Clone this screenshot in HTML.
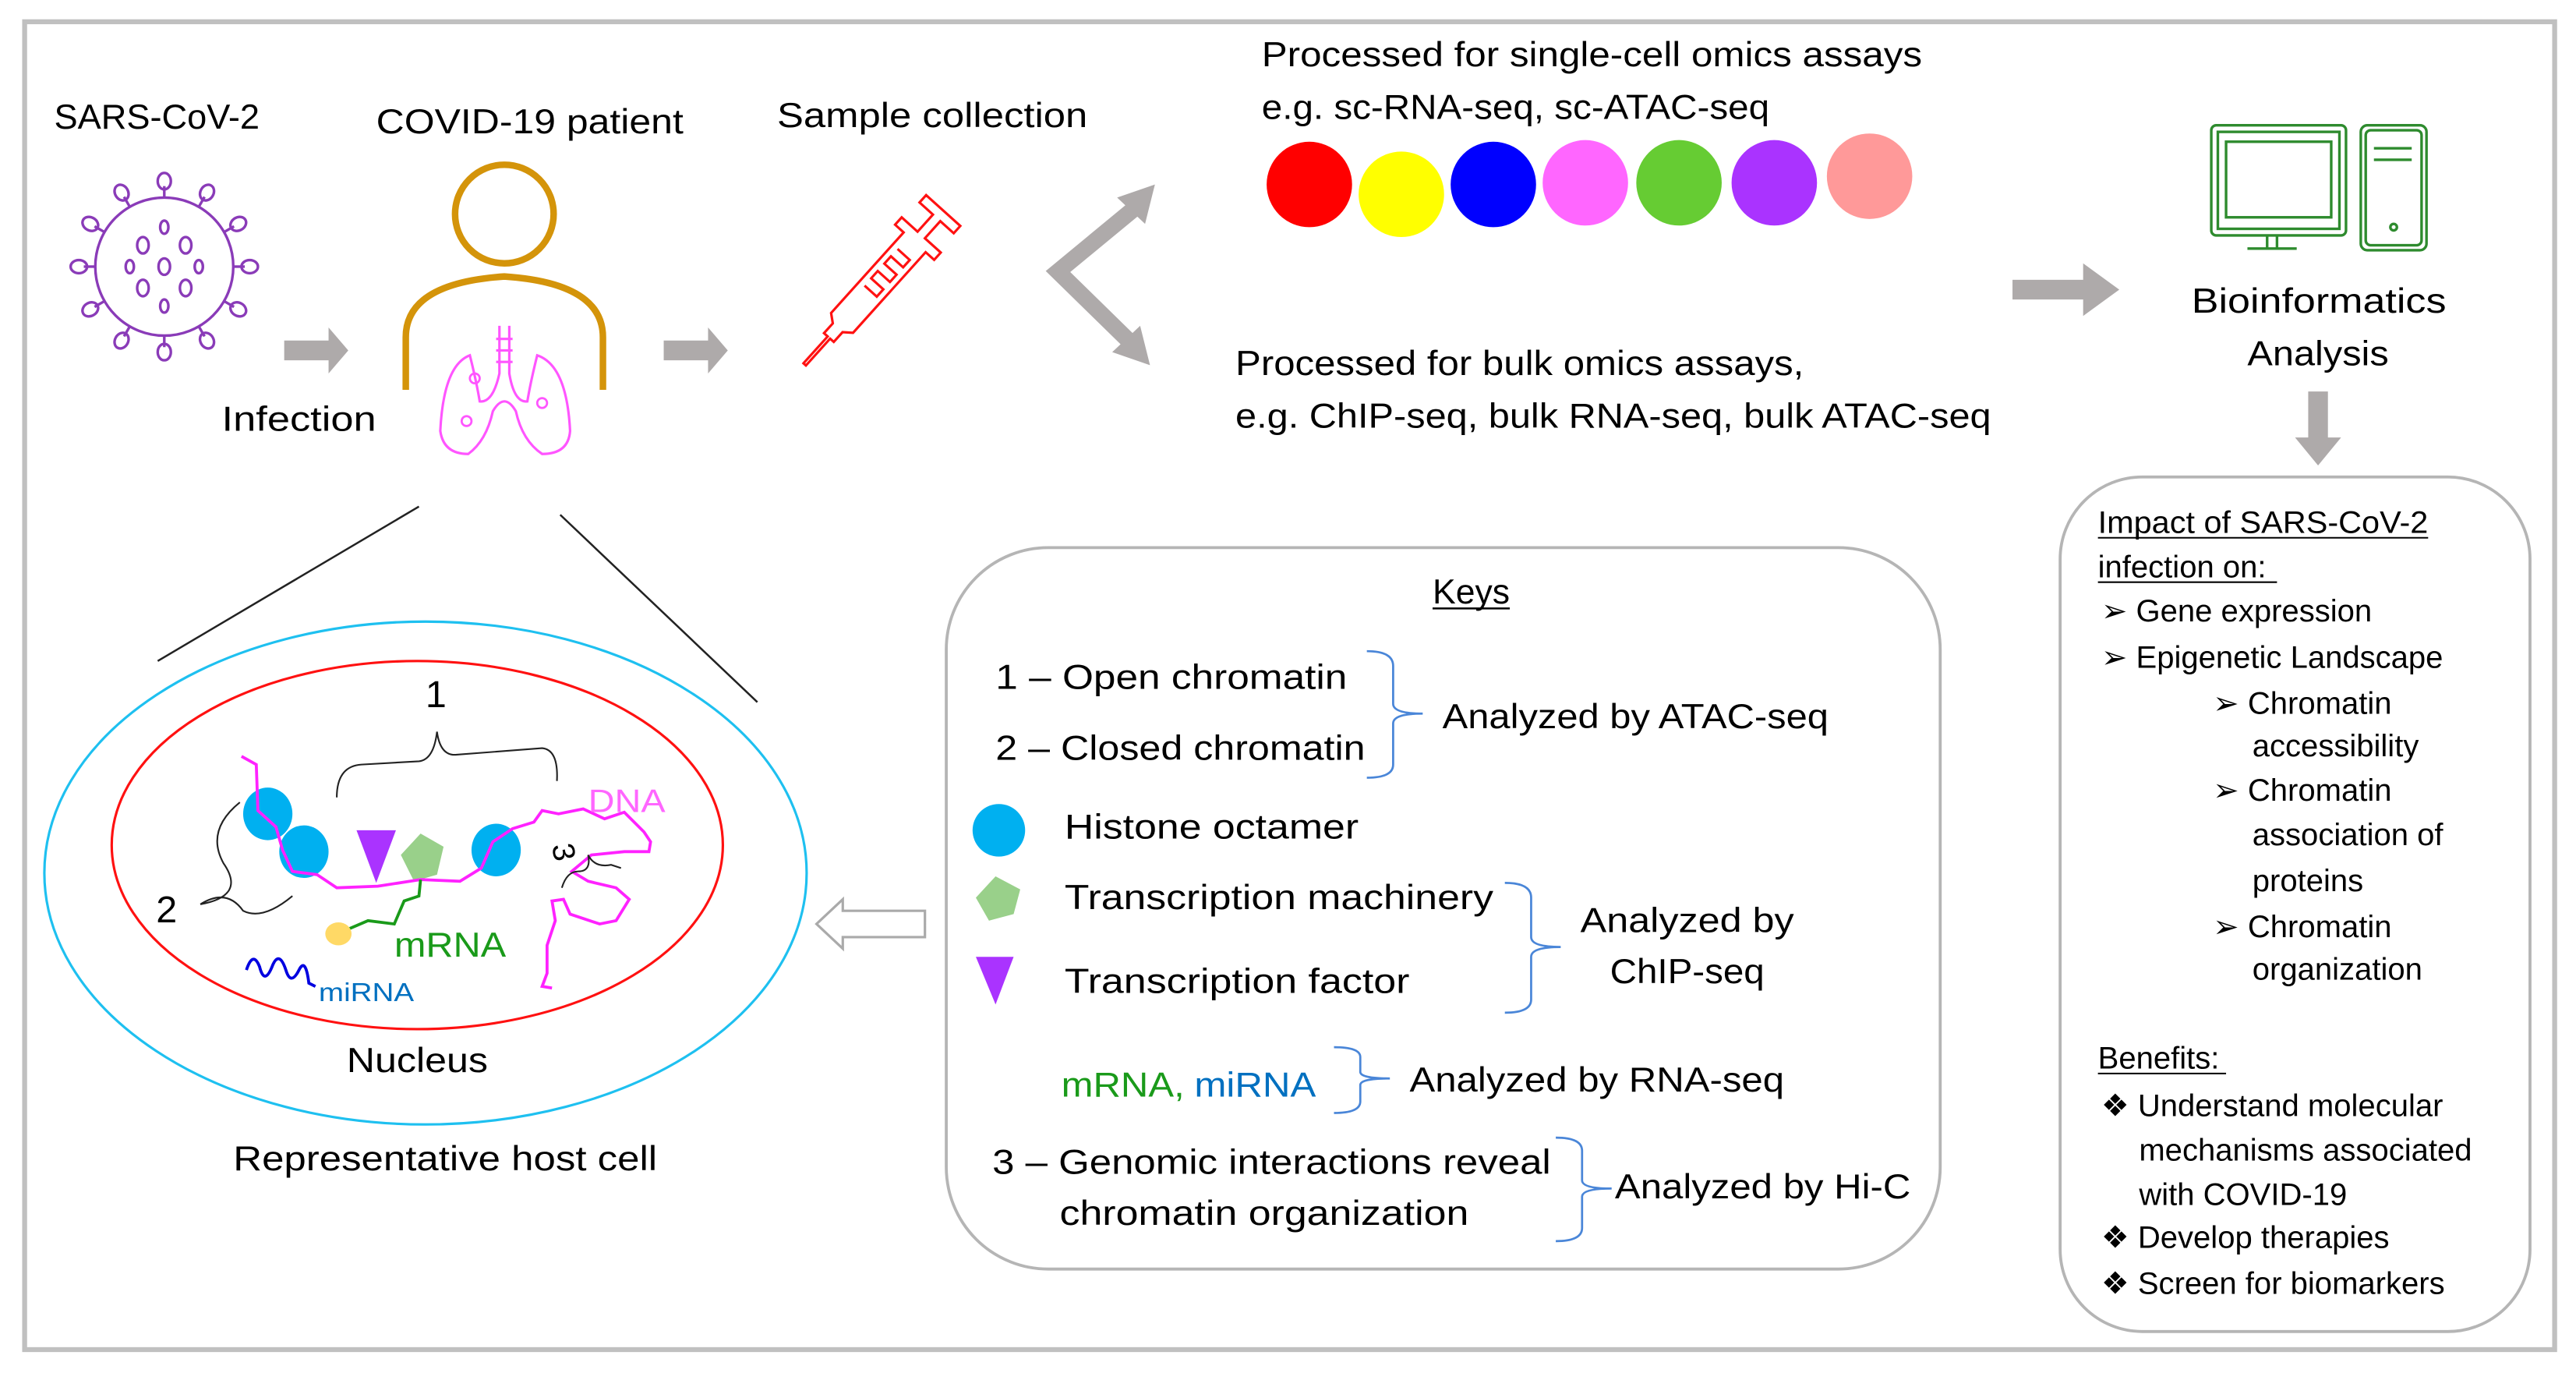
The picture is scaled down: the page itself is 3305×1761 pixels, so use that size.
<!DOCTYPE html>
<html><head><meta charset="utf-8"><style>
html,body{margin:0;padding:0;background:#fff;}
svg{display:block;}
text{font-family:"Liberation Sans",sans-serif;fill:#000;}
</style></head><body>
<svg width="3305" height="1761" viewBox="0 0 1568 835" xmlns="http://www.w3.org/2000/svg">
<rect x="0" y="0" width="1568" height="835" fill="#fff"/>
<rect x="15" y="13" width="1540" height="808" fill="none" stroke="#c0c0c0" stroke-width="3"/>

<g font-size="21">
<text x="33" y="78" textLength="125" lengthAdjust="spacingAndGlyphs">SARS-CoV-2</text>
<text x="229" y="81" textLength="187" lengthAdjust="spacingAndGlyphs">COVID-19 patient</text>
<text x="473" y="77" textLength="189" lengthAdjust="spacingAndGlyphs">Sample collection</text>
<text x="135" y="262" textLength="94" lengthAdjust="spacingAndGlyphs">Infection</text>
<text x="768" y="40" textLength="402" lengthAdjust="spacingAndGlyphs">Processed for single-cell omics assays</text>
<text x="768" y="72" textLength="309" lengthAdjust="spacingAndGlyphs">e.g. sc-RNA-seq, sc-ATAC-seq</text>
<text x="752" y="228" textLength="346" lengthAdjust="spacingAndGlyphs">Processed for bulk omics assays,</text>
<text x="752" y="260" textLength="460" lengthAdjust="spacingAndGlyphs">e.g. ChIP-seq, bulk RNA-seq, bulk ATAC-seq</text>
<text x="1334" y="190" textLength="155" lengthAdjust="spacingAndGlyphs">Bioinformatics</text>
<text x="1368" y="222" textLength="86" lengthAdjust="spacingAndGlyphs">Analysis</text>
</g>

<!-- virus -->
<g stroke="#8a3bb8" stroke-width="1.6" fill="none">
<circle cx="100" cy="162" r="42"/>
<g id="sp"><line x1="100" y1="120" x2="100" y2="113"/><ellipse cx="100" cy="110" rx="4" ry="5"/></g>
<use href="#sp" transform="rotate(30 100 162)"/><use href="#sp" transform="rotate(60 100 162)"/>
<use href="#sp" transform="rotate(90 100 162)"/><use href="#sp" transform="rotate(120 100 162)"/>
<use href="#sp" transform="rotate(150 100 162)"/><use href="#sp" transform="rotate(180 100 162)"/>
<use href="#sp" transform="rotate(210 100 162)"/><use href="#sp" transform="rotate(240 100 162)"/>
<use href="#sp" transform="rotate(270 100 162)"/><use href="#sp" transform="rotate(300 100 162)"/>
<use href="#sp" transform="rotate(330 100 162)"/>
<ellipse cx="100" cy="138" rx="2.5" ry="4"/><ellipse cx="87" cy="149" rx="3.5" ry="5"/><ellipse cx="113" cy="149" rx="3.5" ry="5"/>
<ellipse cx="79" cy="162" rx="2.5" ry="4"/><ellipse cx="100" cy="162" rx="3.5" ry="5"/><ellipse cx="121" cy="162" rx="2.5" ry="4"/>
<ellipse cx="87" cy="175" rx="3.5" ry="5"/><ellipse cx="113" cy="175" rx="3.5" ry="5"/><ellipse cx="100" cy="186" rx="2.5" ry="4"/>
</g>

<!-- gray arrows -->
<g fill="#aeaaaa">
<polygon points="173,207 200,207 200,199 212,213 200,227 200,219 173,219"/>
<polygon points="404,207 431,207 431,199 443,213 431,227 431,219 404,219"/>
<polygon points="1225,170 1268,170 1268,160 1290,176 1268,192 1268,182 1225,182"/>
<polygon points="1405,238 1417,238 1417,266 1425,266 1411,283 1397,266 1405,266"/>
</g>
<g stroke="#aeaaaa" stroke-width="10" fill="none"><polyline points="690,127 644,165 690,210"/></g>
<polygon points="703,112 680,120 697,136" fill="#aeaaaa"/>
<polygon points="700,222 677,214 694,198" fill="#aeaaaa"/>

<!-- person -->
<circle cx="307" cy="130" r="30" fill="none" stroke="#d4940a" stroke-width="4"/>
<path d="M247,237 V205 Q247,172 307,168 Q367,172 367,205 V237" fill="none" stroke="#d4940a" stroke-width="4"/>
<g stroke="#ff55ff" stroke-width="1.5" fill="none">
<path d="M304,198 V227 Q300,245 292,244 Q290,232 286,216 Q270,222 268,262 Q270,276 285,276 Q296,268 300,250 Q307,238 314,250 Q318,268 330,276 Q346,276 347,262 Q345,222 327,216 Q323,232 321,244 Q313,245 310,227 V198"/>
<line x1="302" y1="206" x2="312" y2="206"/><line x1="302" y1="213" x2="312" y2="213"/><line x1="302" y1="220" x2="312" y2="220"/>
</g>
<g fill="none" stroke="#ff55ff" stroke-width="1.3"><circle cx="289" cy="230" r="3"/><circle cx="284" cy="256" r="3"/><circle cx="330" cy="245" r="3"/></g>

<!-- syringe -->
<g transform="translate(538,168) rotate(-48)" stroke="#ff1111" stroke-width="1.5" fill="none">
<path d="M-72,-1 L-50,-1 L-50,-4 L-42,-4 L-38,-9 L28,-9 L28,-16 L34,-16 L34,-3 L48,-3 L48,-14 L54,-14 L54,14 L48,14 L48,3 L34,3 L34,16 L28,16 L28,9 L-38,9 L-42,4 L-50,4 L-50,1 L-72,1 Z"/>
<path d="M-12,-5 L-12,5 L-6,5 L-6,-5 L0,-5 L0,5 L6,5 L6,-5 L12,-5 L12,5 L18,5 L18,-5"/>
</g>

<!-- colored cells -->
<ellipse cx="797" cy="112" rx="26" ry="26" fill="#ff0000"/>
<ellipse cx="853" cy="118" rx="26" ry="26" fill="#ffff00"/>
<ellipse cx="909" cy="112" rx="26" ry="26" fill="#0000ff"/>
<ellipse cx="965" cy="111" rx="26" ry="26" fill="#ff66ff"/>
<ellipse cx="1022" cy="111" rx="26" ry="26" fill="#66cc33"/>
<ellipse cx="1080" cy="111" rx="26" ry="26" fill="#aa33ff"/>
<ellipse cx="1138" cy="107" rx="26" ry="26" fill="#ff9999"/>

<!-- computer -->
<g stroke="#2e8b2e" stroke-width="1.6" fill="none">
<rect x="1346" y="76" width="82" height="67" rx="3"/><rect x="1350" y="80" width="74" height="59"/>
<rect x="1355" y="86" width="64" height="46"/>
<path d="M1380,143 V151 M1386,143 V151 M1368,151 H1398"/>
<rect x="1437" y="76" width="40" height="76" rx="4"/><rect x="1440" y="79" width="34" height="70" rx="3"/>
<path d="M1445,90 H1468 M1445,97 H1468"/><circle cx="1457" cy="138" r="2"/>
</g>

<!-- zoom lines -->
<line x1="255" y1="308" x2="96" y2="402" stroke="#222" stroke-width="1.2"/>
<line x1="341" y1="313" x2="461" y2="427" stroke="#222" stroke-width="1.2"/>

<!-- cell -->
<ellipse cx="259" cy="531" rx="232" ry="153" fill="none" stroke="#1ec0f0" stroke-width="1.5"/>
<ellipse cx="254" cy="514" rx="186" ry="112" fill="none" stroke="#ff1111" stroke-width="1.5"/>
<g font-size="21">
<text x="211" y="652" textLength="86" lengthAdjust="spacingAndGlyphs">Nucleus</text>
<text x="142" y="712" textLength="258" lengthAdjust="spacingAndGlyphs">Representative host cell</text>
</g>
<!-- nucleus contents -->
<g fill="#00b0f0"><ellipse cx="163" cy="495" rx="15" ry="16"/><ellipse cx="185" cy="518" rx="15" ry="16"/><ellipse cx="302" cy="517" rx="15" ry="16"/></g>
<polygon points="217,505 241,505 229,537" fill="#aa33ff"/>
<polygon points="244,520 256,507 270,515 266,532 252,536" fill="#99d08a"/>
<g fill="none" stroke="#ff22ff" stroke-width="1.8">
<path d="M147,460 L156,465 L157,493 L168,503 L172,517 L178,530 L193,532 L205,540 L230,539 L256,535 L280,536 L293,528 L300,512 L312,504 L325,500 L330,493 L340,495 L355,492 L368,498 L380,494 L392,506 L396,512 L395,518 L380,518 L360,520 L348,530 L358,536 L375,540 L383,547 L375,560 L365,562 L347,556 L343,547 L336,548 L338,560 L333,575 L333,592 L330,600 L336,601"/>
</g>
<path d="M256,535 L255,545 L246,548 L240,562 L224,560 L210,566" fill="none" stroke="#1a9a1a" stroke-width="1.8"/>
<ellipse cx="206" cy="568" rx="8" ry="7" fill="#ffd966"/>
<path d="M150,590 Q154,578 158,588 Q161,600 166,587 Q170,578 174,590 Q177,600 182,590 Q186,582 188,598 L192,600" fill="none" stroke="#0000e0" stroke-width="1.8"/>
<text x="240" y="582" font-size="21" style="fill:#1a9a1a" textLength="68" lengthAdjust="spacingAndGlyphs">mRNA</text>
<text x="194" y="609" font-size="16" style="fill:#0070c0" textLength="58" lengthAdjust="spacingAndGlyphs">miRNA</text>
<text x="358" y="494" font-size="20" style="fill:#ff66ff" textLength="47" lengthAdjust="spacingAndGlyphs">DNA</text>
<text x="259" y="430" font-size="23">1</text>
<text x="95" y="561" font-size="23">2</text>
<text x="336" y="526" font-size="19" transform="rotate(80 343 520)">3</text>
<g fill="none" stroke="#222" stroke-width="1">
<path d="M205,485 Q205,466 220,465 L255,463 Q264,462 266,445 Q268,460 278,459 L330,455 Q340,456 339,475"/>
<path d="M146,488 Q125,505 136,525 Q150,545 122,550 Q138,540 148,554 Q160,560 178,545"/>
<path d="M342,540 Q345,530 352,530 Q360,530 358,520 Q362,528 372,526 L378,528"/>
</g>

<!-- hollow arrow -->
<polygon points="497,562 513,547 513,554 563,554 563,570 513,570 513,577" fill="#fff" stroke="#aaa" stroke-width="1.5"/>

<!-- keys box -->
<rect x="576" y="333" width="605" height="439" rx="62" fill="none" stroke="#b5b5b5" stroke-width="1.8"/>
<g font-size="21">
<text x="872" y="367" textLength="47" lengthAdjust="spacingAndGlyphs">Keys</text>
<line x1="872" y1="370" x2="919" y2="370" stroke="#000" stroke-width="1.2"/>
<text x="606" y="419" textLength="214" lengthAdjust="spacingAndGlyphs">1 – Open chromatin</text>
<text x="606" y="462" textLength="225" lengthAdjust="spacingAndGlyphs">2 – Closed chromatin</text>
<text x="878" y="443" textLength="235" lengthAdjust="spacingAndGlyphs">Analyzed by ATAC-seq</text>
<text x="648" y="510" textLength="179" lengthAdjust="spacingAndGlyphs">Histone octamer</text>
<text x="648" y="553" textLength="261" lengthAdjust="spacingAndGlyphs">Transcription machinery</text>
<text x="648" y="604" textLength="210" lengthAdjust="spacingAndGlyphs">Transcription factor</text>
<text x="962" y="567" textLength="130" lengthAdjust="spacingAndGlyphs">Analyzed by</text>
<text x="980" y="598" textLength="94" lengthAdjust="spacingAndGlyphs">ChIP-seq</text>
<text x="646" y="667" style="fill:#1a9a1a" textLength="75" lengthAdjust="spacingAndGlyphs">mRNA,</text>
<text x="727" y="667" style="fill:#0070c0" textLength="74" lengthAdjust="spacingAndGlyphs">miRNA</text>
<text x="858" y="664" textLength="228" lengthAdjust="spacingAndGlyphs">Analyzed by RNA-seq</text>
<text x="604" y="714" textLength="340" lengthAdjust="spacingAndGlyphs">3 – Genomic interactions reveal</text>
<text x="645" y="745" textLength="249" lengthAdjust="spacingAndGlyphs">chromatin organization</text>
<text x="983" y="729" textLength="180" lengthAdjust="spacingAndGlyphs">Analyzed by Hi-C</text>
</g>
<g fill="none" stroke="#4a86d8" stroke-width="1.3">
<path d="M832,396 Q848,396 848,405 V428 Q848,434 866,434 Q848,434 848,440 V465 Q848,473 832,473"/>
<path d="M916,537 Q932,537 932,546 V570 Q932,576 950,576 Q932,576 932,582 V608 Q932,616 916,616"/>
<path d="M812,637 Q828,637 828,643 V652 Q828,656 846,656 Q828,656 828,660 V670 Q828,677 812,677"/>
<path d="M947,692 Q963,692 963,700 V718 Q963,723 981,723 Q963,723 963,728 V747 Q963,755 947,755"/>
</g>
<circle cx="608" cy="505" r="16" fill="#00b0f0"/>
<polygon points="594,546 606,533 621,541 617,556 602,560" fill="#99d08a"/>
<polygon points="594,582 617,582 606,611" fill="#aa33ff"/>

<!-- right box -->
<rect x="1254" y="290" width="286" height="520" rx="50" fill="none" stroke="#b5b5b5" stroke-width="1.8"/>
<g font-size="19">
<text x="1277" y="324" textLength="201" lengthAdjust="spacingAndGlyphs">Impact of SARS-CoV-2</text>
<line x1="1277" y1="327" x2="1478" y2="327" stroke="#000" stroke-width="1"/>
<text x="1277" y="351">infection on:</text>
<line x1="1277" y1="354" x2="1386" y2="354" stroke="#000" stroke-width="1"/>
<text x="1279" y="378">➢ Gene expression</text>
<text x="1279" y="406">➢ Epigenetic Landscape</text>
<text x="1347" y="434">➢ Chromatin</text>
<text x="1371" y="460">accessibility</text>
<text x="1347" y="487">➢ Chromatin</text>
<text x="1371" y="514">association of</text>
<text x="1371" y="542">proteins</text>
<text x="1347" y="570">➢ Chromatin</text>
<text x="1371" y="596">organization</text>
<text x="1277" y="650">Benefits:</text>
<line x1="1277" y1="653" x2="1355" y2="653" stroke="#000" stroke-width="1"/>
<text x="1279" y="679">❖ Understand molecular</text>
<text x="1302" y="706">mechanisms associated</text>
<text x="1302" y="733">with COVID-19</text>
<text x="1279" y="759">❖ Develop therapies</text>
<text x="1279" y="787">❖ Screen for biomarkers</text>
</g>
</svg>
</body></html>
